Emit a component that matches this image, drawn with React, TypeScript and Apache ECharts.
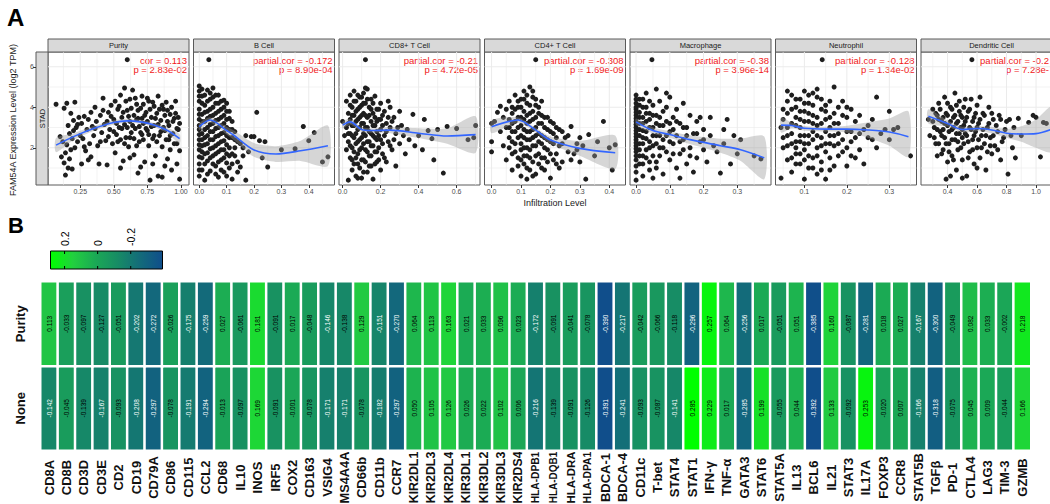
import React, { useEffect, useRef } from 'react';
import * as echarts from 'echarts';

const FONT = 'Liberation Sans, Arial, Helvetica, sans-serif';

// ---------------- Panel A data ----------------
const panelTitles = ['Purity', 'B Cell', 'CD8+ T Cell', 'CD4+ T Cell', 'Macrophage', 'Neutrophil', 'Dendritic Cell'];
const corTexts = ['cor = 0.113', 'partial.cor = -0.172', 'partial.cor = -0.21', 'partial.cor = -0.308', 'partial.cor = -0.38', 'partial.cor = -0.128', 'partial.cor = -0.2'];
const pTexts = ['p = 2.83e-02', 'p = 8.90e-04', 'p = 4.72e-05', 'p = 1.69e-09', 'p = 3.96e-14', 'p = 1.34e-02', 'p = 7.28e-'];
const rowStrip = 'STAD';
const yTitle = 'FAM54A Expression Level (log2 TPM)';
const xTitle = 'Infiltration Level';

const xMins = [0.01, -0.021, -0.019, -0.024, -0.018, 0.032, 0.22];
const xMaxs = [1.06, 0.494, 0.723, 0.455, 0.4, 0.364, 1.176];
const xTicks = [[0.25, 0.5, 0.75, 1.0], [0, 0.1, 0.2, 0.3, 0.4], [0, 0.2, 0.4, 0.6], [0, 0.1, 0.2, 0.3, 0.4], [0, 0.1, 0.2, 0.3], [0.1, 0.2, 0.3], [0.4, 0.6, 0.8, 1.0]];
const xMinorTicks = [[0.125, 0.375, 0.625, 0.875], [0.05, 0.15, 0.25, 0.35, 0.45], [0.1, 0.3, 0.5, 0.7], [0.05, 0.15, 0.25, 0.35], [0.05, 0.15, 0.25, 0.35], [0.05, 0.15, 0.25, 0.35], [0.3, 0.5, 0.7, 0.9, 1.1]];
const xTickDecimals = [2, 1, 1, 1, 1, 1, 1];
const yMin = 0.16;
const yMax = 6.73;
const yTicks = [2, 4, 6];
const yMinorTicks = [1, 3, 5];

const purityPts = [
  [0.07, 4.15], [0.6, 6.35], [0.1, 2.55], [0.11, 1.55], [0.12, 2.3], [0.13, 1.25], [0.13, 3.95], [0.14, 0.65], [0.14, 1.75], [0.15, 2.15], [0.15, 4.2], [0.16, 1.0], [0.16, 3.1], [0.17, 1.45], [0.17, 2.7], [0.18, 3.7], [0.18, 1.9], [0.19, 0.95], [0.19, 2.45], [0.2, 3.35], [0.2, 2.85], [0.21, 4.25], [0.21, 2.0], [0.22, 3.0], [0.23, 2.3], [0.24, 3.5], [0.25, 2.6], [0.26, 1.2], [0.26, 3.2], [0.27, 2.45], [0.28, 3.55], [0.29, 1.85], [0.3, 2.9], [0.31, 3.4], [0.32, 2.2], [0.33, 1.55], [0.34, 3.05], [0.35, 2.6], [0.36, 4.0], [0.37, 3.3], [0.38, 2.1], [0.39, 1.2], [0.4, 3.6], [0.41, 2.75], [0.42, 4.45], [0.43, 3.15], [0.44, 2.35], [0.45, 1.15], [0.46, 3.75], [0.47, 2.9], [0.48, 4.1], [0.49, 2.2], [0.5, 3.4], [0.51, 1.75], [0.52, 2.65], [0.53, 3.9], [0.54, 3.0], [0.55, 4.6], [0.55, 2.4], [0.56, 3.5], [0.57, 1.35], [0.58, 4.95], [0.58, 3.15], [0.59, 2.5], [0.6, 3.85], [0.61, 2.05], [0.62, 4.4], [0.62, 3.3], [0.63, 2.75], [0.64, 4.85], [0.65, 3.6], [0.65, 1.65], [0.66, 2.95], [0.67, 4.15], [0.68, 0.75], [0.68, 3.45], [0.69, 2.3], [0.7, 3.95], [0.71, 4.55], [0.71, 2.65], [0.72, 3.2], [0.73, 1.3], [0.74, 3.75], [0.75, 2.85], [0.76, 4.3], [0.76, 2.1], [0.77, 0.4], [0.78, 3.5], [0.79, 2.45], [0.8, 4.05], [0.8, 3.1], [0.81, 1.6], [0.82, 3.7], [0.83, 4.55], [0.84, 2.6], [0.85, 3.35], [0.86, 0.55], [0.86, 2.05], [0.87, 3.9], [0.88, 2.85], [0.89, 4.25], [0.9, 1.45], [0.9, 3.3], [0.91, 2.4], [0.92, 3.65], [0.93, 0.9], [0.94, 2.7], [0.95, 3.45], [0.96, 4.3], [0.97, 1.2], [0.97, 2.2], [0.98, 2.9], [0.99, 0.45], [0.99, 3.2], [0.99, 1.85],
  [0.45, 3.3], [0.46, 2.55], [0.48, 3.55], [0.5, 2.8], [0.51, 4.3], [0.52, 3.2], [0.53, 2.3], [0.54, 4.05], [0.56, 2.95], [0.57, 3.75], [0.58, 2.2], [0.59, 4.3], [0.6, 3.0], [0.61, 3.55], [0.62, 2.5], [0.63, 3.95], [0.64, 3.1], [0.65, 2.45], [0.66, 4.45], [0.67, 3.4], [0.67, 2.1], [0.68, 3.85], [0.69, 3.05], [0.7, 2.75], [0.71, 3.45], [0.72, 4.15], [0.72, 2.4], [0.73, 3.6], [0.74, 2.95], [0.75, 4.45], [0.75, 3.3], [0.76, 2.65], [0.77, 3.9], [0.78, 3.05], [0.79, 4.25], [0.8, 2.6], [0.81, 3.45], [0.82, 2.3], [0.83, 3.15], [0.84, 3.9], [0.85, 2.8], [0.86, 4.1], [0.87, 3.0], [0.88, 3.6], [0.89, 2.4], [0.9, 3.85], [0.91, 3.1], [0.92, 2.6], [0.93, 4.0], [0.94, 3.3], [0.95, 2.2], [0.96, 3.7], [0.97, 2.95], [0.98, 3.5], [0.4, 2.3], [0.42, 3.85], [0.36, 2.95], [0.33, 3.75], [0.28, 2.05], [0.23, 3.15], [0.31, 1.4], [0.55, 1.0], [0.62, 1.5], [0.7, 1.05], [0.79, 1.2], [0.88, 1.1], [0.92, 1.9], [0.83, 0.6],
];
const bCellPts = [
  [0.035, 6.35], [0.0, 5.05], [0.0, 4.8], [0.0, 3.9], [0.0, 3.4], [0.0, 2.9], [0.0, 2.4], [0.0, 1.9], [0.0, 1.2], [0.0, 0.6], [0.0, 4.3], [0.0, 3.1], [0.01, 4.55], [0.01, 3.65], [0.01, 2.7], [0.01, 2.1], [0.01, 1.5], [0.01, 0.9], [0.02, 4.1], [0.02, 3.3], [0.02, 2.5], [0.02, 1.7], [0.02, 0.4], [0.03, 4.85], [0.03, 3.8], [0.03, 3.0], [0.03, 2.2], [0.03, 1.35], [0.04, 4.4], [0.04, 3.55], [0.04, 2.8], [0.04, 1.95], [0.04, 0.85], [0.05, 4.95], [0.05, 4.0], [0.05, 3.2], [0.05, 2.4], [0.05, 1.6], [0.06, 4.6], [0.06, 3.7], [0.06, 2.95], [0.06, 2.1], [0.06, 1.1], [0.07, 4.2], [0.07, 3.4], [0.07, 2.6], [0.07, 1.8], [0.07, 0.55], [0.08, 3.9], [0.08, 3.1], [0.08, 2.3], [0.08, 1.4], [0.09, 4.35], [0.09, 3.6], [0.09, 2.75], [0.09, 1.9], [0.09, 0.8], [0.1, 3.8], [0.1, 3.0], [0.1, 2.15], [0.1, 1.25], [0.11, 3.45], [0.11, 2.5], [0.11, 1.6], [0.12, 2.9], [0.12, 1.2], [0.13, 2.4], [0.13, 1.6], [0.14, 0.8], [0.15, 1.05], [0.15, 2.2], [0.17, 0.4], [0.17, 2.6], [0.19, 2.55], [0.2, 2.55], [0.21, 3.75], [0.22, 2.35], [0.23, 1.5], [0.24, 2.3], [0.25, 1.05], [0.3, 1.9], [0.35, 1.95], [0.38, 3.05], [0.4, 2.35], [0.42, 2.75], [0.45, 1.3], [0.47, 1.55], [0.16, 1.6], [0.12, 0.45],
  [0.0, 4.55], [0.0, 3.65], [0.0, 2.65], [0.0, 2.15], [0.0, 1.55], [0.0, 0.9], [0.01, 4.9], [0.01, 4.2], [0.01, 3.3], [0.01, 2.4], [0.01, 1.8], [0.02, 4.6], [0.02, 3.75], [0.02, 2.9], [0.02, 2.15], [0.02, 1.2], [0.03, 4.3], [0.03, 3.45], [0.03, 2.6], [0.03, 1.75], [0.03, 0.7], [0.04, 4.7], [0.04, 3.9], [0.04, 3.15], [0.04, 2.4], [0.04, 1.5], [0.05, 4.5], [0.05, 3.6], [0.05, 2.8], [0.05, 2.0], [0.05, 1.2], [0.06, 4.2], [0.06, 3.35], [0.06, 2.55], [0.06, 1.7], [0.06, 0.7], [0.07, 4.6], [0.07, 3.8], [0.07, 3.0], [0.07, 2.2], [0.07, 1.3], [0.08, 4.3], [0.08, 3.5], [0.08, 2.7], [0.08, 1.9], [0.08, 0.9], [0.09, 4.0], [0.09, 3.2], [0.09, 2.35], [0.09, 1.5], [0.1, 4.2], [0.1, 3.4], [0.1, 2.6], [0.1, 1.7], [0.1, 0.6], [0.11, 3.8], [0.11, 2.9], [0.11, 2.0], [0.11, 1.0], [0.12, 3.3], [0.12, 2.5], [0.12, 1.7], [0.13, 2.8], [0.13, 2.0], [0.14, 2.3], [0.14, 1.3], [0.16, 2.0], [0.18, 1.8],
];
const cd8Pts = [
  [0.12, 6.35], [0.0, 3.3], [0.01, 2.6], [0.02, 4.3], [0.02, 3.0], [0.02, 1.9], [0.03, 3.7], [0.03, 2.3], [0.03, 0.4], [0.04, 4.6], [0.04, 3.4], [0.04, 2.7], [0.04, 1.5], [0.05, 4.0], [0.05, 3.1], [0.05, 2.0], [0.05, 0.9], [0.06, 4.8], [0.06, 3.6], [0.06, 2.5], [0.06, 1.2], [0.07, 4.3], [0.07, 3.3], [0.07, 2.2], [0.07, 0.6], [0.08, 3.9], [0.08, 2.9], [0.08, 1.7], [0.09, 4.5], [0.09, 3.5], [0.09, 2.4], [0.09, 1.0], [0.1, 4.1], [0.1, 3.2], [0.1, 2.0], [0.1, 0.5], [0.11, 4.7], [0.11, 3.7], [0.11, 2.7], [0.11, 1.4], [0.12, 4.2], [0.12, 3.0], [0.12, 1.9], [0.13, 4.9], [0.13, 3.5], [0.13, 2.3], [0.13, 0.8], [0.14, 4.0], [0.14, 2.8], [0.14, 1.6], [0.15, 4.4], [0.15, 3.3], [0.15, 2.1], [0.15, 1.1], [0.16, 3.7], [0.16, 2.6], [0.16, 0.45], [0.17, 4.55], [0.17, 3.1], [0.17, 1.8], [0.18, 3.9], [0.18, 2.4], [0.18, 1.3], [0.19, 3.4], [0.19, 2.0], [0.2, 4.2], [0.2, 2.9], [0.2, 0.9], [0.21, 3.6], [0.21, 1.7], [0.22, 2.6], [0.23, 3.2], [0.23, 1.3], [0.24, 4.3], [0.24, 2.3], [0.25, 3.0], [0.26, 1.9], [0.27, 3.5], [0.28, 2.7], [0.28, 1.1], [0.3, 3.8], [0.3, 2.2], [0.31, 3.1], [0.33, 1.7], [0.34, 2.9], [0.35, 2.4], [0.37, 3.65], [0.38, 2.1], [0.4, 2.6], [0.42, 1.9], [0.43, 3.4], [0.45, 2.85], [0.47, 2.45], [0.48, 1.4], [0.5, 2.9], [0.53, 0.75], [0.55, 3.05], [0.6, 2.95], [0.66, 2.4], [0.69, 2.5], [0.7, 3.1],
  [0.03, 3.2], [0.03, 2.7], [0.04, 4.1], [0.04, 2.1], [0.05, 3.6], [0.05, 2.6], [0.05, 1.4], [0.06, 4.3], [0.06, 3.1], [0.06, 1.8], [0.07, 3.8], [0.07, 2.7], [0.07, 1.5], [0.08, 4.6], [0.08, 3.4], [0.08, 2.3], [0.08, 1.2], [0.09, 4.0], [0.09, 3.0], [0.09, 1.9], [0.1, 4.5], [0.1, 3.6], [0.1, 2.5], [0.1, 1.4], [0.11, 4.2], [0.11, 3.2], [0.11, 2.2], [0.11, 0.8], [0.12, 3.6], [0.12, 2.6], [0.12, 1.3], [0.13, 4.4], [0.13, 3.0], [0.13, 1.8], [0.14, 3.6], [0.14, 2.3], [0.14, 1.1], [0.15, 3.9], [0.15, 2.7], [0.15, 1.6], [0.16, 4.2], [0.16, 3.1], [0.16, 2.1], [0.17, 3.5], [0.17, 2.5], [0.17, 1.2], [0.18, 3.3], [0.18, 2.8], [0.18, 1.8], [0.19, 3.9], [0.19, 2.6], [0.19, 1.4], [0.2, 3.4], [0.2, 2.4], [0.21, 3.1], [0.21, 2.2], [0.22, 3.8], [0.22, 1.5], [0.23, 2.8], [0.24, 3.5], [0.25, 2.1], [0.26, 3.3], [0.27, 2.4], [0.29, 3.0], [0.25, 4.0], [0.32, 2.6], [0.12, 4.95], [0.08, 0.5],
];
const cd4Pts = [
  [0.15, 6.35], [0.0, 3.2], [0.0, 2.3], [0.0, 1.8], [0.01, 3.3], [0.02, 3.75], [0.03, 4.05], [0.03, 2.8], [0.04, 3.5], [0.04, 2.1], [0.05, 3.9], [0.05, 3.0], [0.05, 1.4], [0.06, 4.3], [0.06, 3.4], [0.06, 2.5], [0.07, 3.7], [0.07, 2.8], [0.07, 1.7], [0.07, 0.9], [0.08, 4.6], [0.08, 3.3], [0.08, 2.2], [0.09, 4.0], [0.09, 3.0], [0.09, 1.5], [0.1, 4.4], [0.1, 3.5], [0.1, 2.6], [0.1, 1.9], [0.1, 0.6], [0.11, 4.8], [0.11, 3.8], [0.11, 2.9], [0.11, 2.0], [0.11, 1.2], [0.12, 4.2], [0.12, 3.2], [0.12, 2.4], [0.12, 1.6], [0.12, 0.45], [0.13, 5.0], [0.13, 3.7], [0.13, 2.8], [0.13, 1.9], [0.13, 0.9], [0.14, 4.5], [0.14, 3.4], [0.14, 2.5], [0.14, 1.3], [0.15, 4.1], [0.15, 3.0], [0.15, 2.1], [0.15, 0.7], [0.16, 3.7], [0.16, 2.7], [0.16, 1.7], [0.17, 4.3], [0.17, 3.2], [0.17, 2.2], [0.17, 1.0], [0.18, 3.5], [0.18, 2.5], [0.18, 1.5], [0.19, 2.9], [0.19, 1.9], [0.2, 3.3], [0.2, 2.3], [0.2, 0.5], [0.21, 2.7], [0.21, 1.4], [0.22, 3.0], [0.22, 1.2], [0.23, 2.1], [0.24, 2.8], [0.24, 1.3], [0.25, 2.5], [0.26, 1.8], [0.27, 3.05], [0.28, 1.7], [0.29, 2.2], [0.3, 2.5], [0.31, 2.1], [0.32, 0.45], [0.33, 2.65], [0.35, 1.6], [0.38, 3.3], [0.4, 2.0], [0.41, 0.9], [0.42, 2.15],
  [0.06, 3.0], [0.06, 2.0], [0.07, 4.0], [0.07, 3.2], [0.07, 2.3], [0.08, 3.9], [0.08, 2.8], [0.08, 1.8], [0.09, 4.3], [0.09, 3.5], [0.09, 2.5], [0.09, 1.1], [0.1, 4.0], [0.1, 3.1], [0.1, 2.2], [0.1, 1.4], [0.11, 4.4], [0.11, 3.4], [0.11, 2.5], [0.11, 1.6], [0.12, 4.6], [0.12, 3.6], [0.12, 2.8], [0.12, 2.0], [0.12, 1.0], [0.13, 4.1], [0.13, 3.3], [0.13, 2.4], [0.13, 1.5], [0.14, 4.8], [0.14, 3.8], [0.14, 2.9], [0.14, 2.1], [0.14, 0.6], [0.15, 4.4], [0.15, 3.5], [0.15, 2.6], [0.15, 1.6], [0.16, 4.0], [0.16, 3.2], [0.16, 2.3], [0.16, 1.2], [0.17, 3.6], [0.17, 2.6], [0.17, 1.5], [0.18, 3.0], [0.18, 2.0], [0.18, 0.9], [0.19, 3.5], [0.19, 2.4], [0.19, 1.3], [0.2, 2.8], [0.2, 1.7], [0.21, 3.2], [0.21, 2.2], [0.22, 2.5], [0.22, 1.7], [0.23, 2.9], [0.23, 1.0], [0.24, 2.2], [0.26, 2.6], [0.27, 1.4], [0.29, 1.9], [0.3, 1.3], [0.36, 2.3],
];
const macroPts = [
  [0.047, 6.35], [0.0, 4.6], [0.0, 4.2], [0.0, 3.9], [0.0, 3.6], [0.0, 3.3], [0.0, 3.0], [0.0, 2.7], [0.0, 2.4], [0.0, 2.1], [0.0, 1.8], [0.0, 1.4], [0.0, 0.4], [0.01, 4.4], [0.01, 3.5], [0.01, 2.9], [0.01, 2.2], [0.01, 1.6], [0.02, 4.0], [0.02, 3.2], [0.02, 2.5], [0.02, 1.2], [0.03, 4.7], [0.03, 3.7], [0.03, 2.8], [0.03, 1.9], [0.04, 3.4], [0.04, 2.3], [0.04, 0.9], [0.05, 4.1], [0.05, 3.0], [0.05, 1.6], [0.06, 3.6], [0.06, 2.6], [0.06, 1.3], [0.07, 4.3], [0.07, 3.1], [0.07, 2.0], [0.08, 3.8], [0.08, 2.4], [0.08, 0.7], [0.09, 3.3], [0.09, 1.8], [0.1, 4.5], [0.1, 2.8], [0.1, 1.4], [0.11, 3.5], [0.11, 2.2], [0.12, 3.9], [0.12, 2.6], [0.12, 1.0], [0.13, 3.2], [0.13, 1.7], [0.14, 4.2], [0.14, 2.4], [0.15, 3.0], [0.15, 1.2], [0.16, 3.6], [0.16, 2.0], [0.17, 2.7], [0.17, 0.8], [0.18, 3.3], [0.18, 1.5], [0.19, 2.3], [0.2, 2.9], [0.2, 1.9], [0.21, 1.3], [0.22, 2.6], [0.22, 3.5], [0.24, 1.8], [0.25, 0.75], [0.26, 2.2], [0.27, 3.4], [0.29, 2.6], [0.3, 1.7], [0.31, 2.4], [0.35, 1.6], [0.37, 1.45], [0.13, 0.5], [0.06, 4.9], [0.09, 4.7],
  [0.0, 4.4], [0.0, 4.0], [0.0, 3.75], [0.0, 3.45], [0.0, 3.15], [0.0, 2.85], [0.0, 2.55], [0.0, 2.25], [0.0, 1.95], [0.0, 1.6], [0.0, 1.1], [0.0, 0.8], [0.01, 4.1], [0.01, 3.75], [0.01, 3.2], [0.01, 2.6], [0.01, 1.9], [0.01, 1.2], [0.02, 4.4], [0.02, 3.5], [0.02, 2.85], [0.02, 2.2], [0.02, 1.6], [0.02, 0.6], [0.03, 4.0], [0.03, 3.3], [0.03, 2.45], [0.03, 1.5], [0.04, 4.3], [0.04, 3.7], [0.04, 3.0], [0.04, 2.0], [0.04, 1.3], [0.05, 3.6], [0.05, 2.6], [0.05, 2.1], [0.06, 3.2], [0.06, 2.2], [0.06, 1.0], [0.07, 3.5], [0.07, 2.6], [0.07, 1.6], [0.08, 3.1], [0.08, 2.0], [0.09, 4.0], [0.09, 2.6], [0.1, 3.2], [0.1, 2.3], [0.11, 2.9], [0.11, 1.7], [0.12, 3.3], [0.13, 2.3], [0.14, 3.0], [0.15, 2.6], [0.16, 1.6], [0.18, 2.7], [0.19, 3.5], [0.2, 2.4], [0.23, 2.1], [0.26, 2.9], [0.28, 1.2], [0.14, 1.9], [0.05, 0.5],
];
const neutroPts = [
  [0.142, 6.35], [0.045, 3.0], [0.045, 0.5], [0.05, 3.4], [0.05, 2.5], [0.06, 4.3], [0.06, 3.7], [0.06, 2.1], [0.06, 1.4], [0.07, 4.6], [0.07, 3.2], [0.07, 2.7], [0.07, 0.8], [0.08, 4.0], [0.08, 3.5], [0.08, 2.3], [0.08, 1.7], [0.09, 4.4], [0.09, 3.0], [0.09, 1.2], [0.1, 4.8], [0.1, 3.8], [0.1, 2.6], [0.1, 1.9], [0.1, 0.45], [0.11, 4.2], [0.11, 3.3], [0.11, 2.2], [0.11, 1.0], [0.12, 3.6], [0.12, 2.8], [0.12, 1.5], [0.13, 4.5], [0.13, 3.1], [0.13, 2.0], [0.13, 0.7], [0.14, 3.9], [0.14, 2.5], [0.14, 1.3], [0.15, 4.1], [0.15, 3.4], [0.15, 1.8], [0.16, 3.0], [0.16, 2.2], [0.16, 0.9], [0.17, 5.0], [0.17, 3.7], [0.17, 2.6], [0.18, 3.2], [0.18, 1.6], [0.19, 4.3], [0.19, 2.4], [0.2, 3.5], [0.2, 2.0], [0.2, 1.1], [0.21, 2.8], [0.21, 3.9], [0.22, 2.5], [0.22, 1.5], [0.23, 3.6], [0.24, 2.9], [0.24, 1.2], [0.25, 3.1], [0.26, 2.4], [0.27, 4.5], [0.28, 2.7], [0.3, 3.8], [0.31, 2.9], [0.35, 1.6], [0.12, 4.7], [0.09, 2.3], [0.15, 0.45],
  [0.05, 3.9], [0.05, 2.0], [0.06, 3.0], [0.06, 2.6], [0.07, 3.9], [0.07, 2.2], [0.07, 1.5], [0.08, 4.4], [0.08, 3.1], [0.08, 2.0], [0.08, 1.2], [0.09, 3.8], [0.09, 3.4], [0.09, 2.6], [0.09, 1.7], [0.1, 4.2], [0.1, 3.3], [0.1, 2.2], [0.1, 1.4], [0.11, 4.6], [0.11, 3.7], [0.11, 2.6], [0.11, 1.6], [0.12, 4.1], [0.12, 3.2], [0.12, 2.4], [0.12, 1.0], [0.13, 3.5], [0.13, 2.6], [0.13, 1.6], [0.14, 4.4], [0.14, 3.2], [0.14, 2.1], [0.14, 0.9], [0.15, 3.8], [0.15, 2.8], [0.15, 2.2], [0.16, 4.3], [0.16, 3.5], [0.16, 2.6], [0.16, 1.5], [0.17, 3.2], [0.17, 2.1], [0.17, 1.1], [0.18, 4.0], [0.18, 2.7], [0.18, 2.2], [0.19, 3.6], [0.19, 1.8], [0.2, 2.8], [0.2, 4.0], [0.21, 2.3], [0.21, 1.6], [0.22, 3.3], [0.23, 2.7], [0.23, 1.9], [0.25, 2.5], [0.26, 3.4], [0.27, 2.0], [0.29, 2.9], [0.3, 2.4], [0.32, 3.0], [0.13, 4.9], [0.06, 4.8],
];
const dendriticPts = [
  [0.565, 6.35], [0.27, 3.4], [0.28, 2.6], [0.3, 3.9], [0.31, 3.0], [0.32, 2.2], [0.33, 3.6], [0.33, 1.6], [0.34, 4.2], [0.35, 2.8], [0.36, 3.3], [0.37, 1.9], [0.38, 4.5], [0.38, 2.5], [0.39, 3.7], [0.4, 3.1], [0.4, 1.3], [0.41, 2.2], [0.42, 4.0], [0.43, 2.9], [0.43, 1.6], [0.44, 3.5], [0.45, 4.7], [0.45, 2.4], [0.46, 0.9], [0.46, 3.2], [0.47, 1.9], [0.48, 4.3], [0.48, 2.7], [0.49, 3.6], [0.5, 1.4], [0.5, 2.9], [0.51, 4.0], [0.51, 2.2], [0.52, 3.3], [0.53, 0.6], [0.53, 2.6], [0.54, 3.8], [0.55, 1.8], [0.55, 3.0], [0.56, 4.4], [0.57, 2.4], [0.58, 3.5], [0.58, 1.2], [0.59, 2.8], [0.6, 4.1], [0.6, 2.0], [0.61, 3.2], [0.62, 1.5], [0.63, 2.6], [0.64, 3.7], [0.65, 2.2], [0.66, 0.9], [0.67, 3.0], [0.68, 4.0], [0.69, 2.5], [0.7, 1.7], [0.71, 3.4], [0.72, 2.1], [0.74, 2.8], [0.75, 3.6], [0.76, 1.4], [0.78, 2.5], [0.8, 3.3], [0.81, 0.7], [0.82, 3.4], [0.84, 2.0], [0.86, 1.5], [0.88, 3.45], [0.9, 2.6], [0.95, 3.25], [0.98, 3.6], [1.0, 3.5], [1.03, 1.55], [1.05, 3.25], [1.07, 3.2], [0.42, 0.6], [0.39, 0.45],
  [0.3, 3.3], [0.31, 2.5], [0.32, 3.7], [0.33, 2.9], [0.34, 3.4], [0.34, 2.2], [0.35, 3.9], [0.36, 2.6], [0.36, 1.7], [0.37, 3.5], [0.37, 2.9], [0.38, 3.2], [0.39, 2.2], [0.4, 4.2], [0.4, 3.6], [0.41, 2.8], [0.41, 1.8], [0.42, 3.3], [0.43, 3.9], [0.43, 2.4], [0.44, 3.0], [0.44, 1.4], [0.45, 3.6], [0.46, 2.7], [0.46, 4.1], [0.47, 3.3], [0.47, 2.3], [0.48, 3.8], [0.49, 3.0], [0.49, 2.0], [0.5, 3.5], [0.5, 2.5], [0.51, 3.1], [0.52, 2.7], [0.52, 4.4], [0.53, 3.5], [0.54, 2.3], [0.54, 1.5], [0.55, 3.9], [0.56, 2.9], [0.57, 3.3], [0.57, 1.9], [0.58, 2.6], [0.59, 3.7], [0.6, 3.0], [0.61, 2.4], [0.62, 3.4], [0.62, 4.5], [0.63, 2.0], [0.64, 2.9], [0.65, 3.6], [0.66, 2.6], [0.67, 1.8], [0.68, 3.2], [0.69, 2.1], [0.7, 3.7], [0.71, 2.6], [0.73, 3.1], [0.74, 1.9], [0.76, 3.4], [0.77, 2.3], [0.79, 2.9], [0.83, 2.6], [0.85, 3.0], [0.6, 1.0], [0.5, 0.5],
];

// loess fits: [x, fit, lower, upper]
const purityFit = [[0.07, 2.13, 1.78, 2.48], [0.2, 2.55, 2.38, 2.72], [0.35, 2.95, 2.83, 3.07], [0.5, 3.25, 3.14, 3.36], [0.6, 3.33, 3.23, 3.43], [0.7, 3.28, 3.18, 3.38], [0.8, 3.12, 3.01, 3.23], [0.9, 2.85, 2.71, 2.99], [0.99, 2.45, 2.22, 2.68]];
const bCellFit = [[0.0, 3.04, 2.88, 3.2], [0.04, 3.37, 3.24, 3.5], [0.1, 2.85, 2.66, 3.04], [0.125, 2.63, 2.4, 2.86], [0.2, 1.89, 1.55, 2.23], [0.28, 1.69, 1.3, 2.08], [0.37, 1.85, 1.35, 2.35], [0.47, 2.1, 1.1, 3.1]];
const cd8Fit = [[0.0, 3.12, 2.95, 3.29], [0.04, 3.28, 3.15, 3.41], [0.1, 2.9, 2.78, 3.02], [0.15, 2.85, 2.74, 2.96], [0.25, 2.87, 2.72, 3.02], [0.4, 2.72, 2.48, 2.96], [0.55, 2.58, 2.2, 2.96], [0.7, 2.65, 1.75, 3.55]];
const cd4Fit = [[0.0, 3.04, 2.72, 3.36], [0.09, 3.37, 3.24, 3.5], [0.15, 2.87, 2.75, 2.99], [0.2, 2.38, 2.2, 2.56], [0.3, 1.97, 1.6, 2.34], [0.42, 1.75, 0.95, 2.6]];
const macroFit = [[0.0, 3.28, 3.12, 3.44], [0.05, 2.85, 2.7, 3.0], [0.1, 2.65, 2.48, 2.82], [0.16, 2.4, 2.18, 2.62], [0.25, 2.1, 1.75, 2.45], [0.31, 1.9, 1.35, 2.45], [0.38, 1.5, 0.45, 2.55]];
const neutroFit = [[0.045, 3.12, 2.75, 3.5], [0.07, 3.1, 2.95, 3.25], [0.1, 2.96, 2.84, 3.08], [0.15, 2.92, 2.8, 3.04], [0.2, 2.92, 2.75, 3.09], [0.25, 2.88, 2.5, 3.26], [0.3, 2.78, 2.1, 3.45], [0.345, 2.54, 1.55, 3.8]];
const dendriticFit = [[0.27, 3.56, 3.2, 3.9], [0.4, 3.2, 3.05, 3.35], [0.5, 2.9, 2.76, 3.04], [0.6, 2.95, 2.82, 3.08], [0.7, 2.88, 2.72, 3.04], [0.8, 2.72, 2.5, 2.94], [0.9, 2.68, 2.3, 3.06], [1.0, 2.7, 2.0, 3.4], [1.1, 2.9, 1.8, 4.0]];

const scatterSets = [purityPts, bCellPts, cd8Pts, cd4Pts, macroPts, neutroPts, dendriticPts];
const fitSets = [purityFit, bCellFit, cd8Fit, cd4Fit, macroFit, neutroFit, dendriticFit];

// ---------------- Panel B data ----------------
const genes = ['CD8A', 'CD8B', 'CD3D', 'CD3E', 'CD2', 'CD19', 'CD79A', 'CD86', 'CD115', 'CCL2', 'CD68', 'IL10', 'INOS', 'IRF5', 'COX2', 'CD163', 'VSIG4', 'MS4A4A', 'CD66b', 'CD11b', 'CCR7', 'KIR2DL1', 'KIR2DL3', 'KIR2DL4', 'KIR3DL1', 'KIR3DL2', 'KIR3DL3', 'KIR2DS4', 'HLA-DPB1', 'HLA-DQB1', 'HLA-DRA', 'HLA-DPA1', 'BDCA-1', 'BDCA-4', 'CD11c', 'T-bet', 'STAT4', 'STAT1', 'IFN-γ', 'TNF-α', 'GATA3', 'STAT6', 'STAT5A', 'IL13', 'BCL6', 'IL21', 'STAT3', 'IL17A', 'FOXP3', 'CCR8', 'STAT5B', 'TGFβ', 'PD-1', 'CTLA4', 'LAG3', 'TIM-3', 'GZMB'];
const heatRows = ['None', 'Purity'];
const purityCor = [0.113, -0.033, -0.097, -0.127, -0.051, -0.202, -0.272, -0.026, -0.175, -0.259, 0.027, -0.061, 0.181, -0.091, 0.017, -0.048, -0.146, -0.138, 0.129, -0.151, -0.27, 0.064, 0.113, 0.163, 0.021, 0.033, 0.096, 0.023, -0.172, -0.091, -0.041, -0.078, -0.39, -0.217, -0.042, -0.066, -0.118, -0.296, 0.257, 0.064, -0.256, 0.017, -0.051, 0.051, -0.385, 0.16, -0.087, -0.281, 0.018, 0.027, -0.167, -0.3, -0.049, 0.082, 0.033, -0.002, 0.218];
const noneCor = [-0.142, -0.045, -0.139, -0.167, -0.093, -0.208, -0.297, -0.078, -0.191, -0.294, -0.013, -0.097, 0.169, -0.091, -0.001, -0.078, -0.171, -0.171, -0.078, -0.182, -0.297, 0.05, 0.105, 0.126, 0.026, 0.022, 0.102, 0.006, -0.216, -0.139, -0.091, -0.126, -0.391, -0.241, -0.093, -0.087, -0.141, 0.285, 0.229, 0.017, -0.285, 0.199, -0.055, 0.044, -0.392, 0.133, -0.092, 0.253, -0.02, 0.007, -0.166, -0.318, -0.075, 0.045, 0.009, -0.044, 0.166];
const colorMin = -0.392;
const colorMax = 0.285;
const heatColors = ['#104E8B', '#136B7A', '#178C65', '#1BA955', '#22D03F', '#00FF00'];
const legendTicks = [0.2, 0, -0.2];
const legendTickLabels = ['0.2', '0', '-0.2'];

// ---------------- layout ----------------
const PANEL_LEFT0 = 48;
const PANEL_PITCH = 145.5;
const PANEL_W = 141;
const PANEL_TOP = 52;
const PANEL_H = 133;
const STRIP_H = 13;
const GENE_FONT = 13;
const GENE_MAX_W = 52;

function geneFontSize(text: string) {
  const canvas = document.createElement('canvas');
  const ctx = canvas.getContext('2d');
  if (!ctx) return GENE_FONT;
  ctx.font = `bold ${GENE_FONT}px ${FONT}`;
  const w = ctx.measureText(text).width;
  return w > GENE_MAX_W ? Math.floor((GENE_FONT * GENE_MAX_W / w) * 10) / 10 : GENE_FONT;
}

function buildOption() {
  const grids: any[] = [];
  const xAxes: any[] = [];
  const yAxes: any[] = [];
  const series: any[] = [];
  const graphics: any[] = [];

  panelTitles.forEach((title, i) => {
    const left = PANEL_LEFT0 + i * PANEL_PITCH;
    grids.push({
      left, top: PANEL_TOP, width: PANEL_W, height: PANEL_H,
      show: true, borderColor: '#5a5a5a', borderWidth: 1, backgroundColor: '#ffffff',
      containLabel: false, outerBoundsMode: 'none',
    });
    xAxes.push({
      type: 'value', gridIndex: i, min: xMins[i], max: xMaxs[i],
      axisLine: { show: false }, splitLine: { show: false },
      axisTick: { show: true, length: 3, lineStyle: { color: '#333333' }, customValues: xTicks[i] },
      axisLabel: {
        fontSize: 7, color: '#4d4d4d', margin: 3, customValues: xTicks[i],
        formatter: (v: any) => Number(v).toFixed(xTickDecimals[i]),
      },
    });
    yAxes.push({
      type: 'value', gridIndex: i, min: yMin, max: yMax, offset: i === 0 ? 12 : 0,
      axisLine: { show: false }, splitLine: { show: false },
      axisTick: i === 0 ? { show: true, length: 3, lineStyle: { color: '#333333' }, customValues: yTicks } : { show: false },
      axisLabel: i === 0 ? { show: true, fontSize: 7, color: '#4d4d4d', margin: 2, customValues: yTicks } : { show: false },
    });

    const gl = [
      ...xTicks[i].map((v) => [v, 0]),
      ...xMinorTicks[i].map((v) => [v, 1]),
      ...yTicks.map((v) => [v, 2]),
      ...yMinorTicks.map((v) => [v, 3]),
    ];
    series.push({
      type: 'custom', xAxisIndex: i, yAxisIndex: i, data: gl, z: 1, silent: true, clip: false,
      renderItem: (params: any, api: any) => {
        const v = api.value(0);
        const k = api.value(1);
        const cs = params.coordSys;
        const style = { stroke: '#ebebeb', lineWidth: k % 2 === 0 ? 1 : 0.6 };
        if (k < 2) {
          const x = api.coord([v, yMin])[0];
          return { type: 'line', shape: { x1: x, y1: cs.y, x2: x, y2: cs.y + cs.height }, style };
        }
        const y = api.coord([xMins[i], v])[1];
        return { type: 'line', shape: { x1: cs.x, y1: y, x2: cs.x + cs.width, y2: y }, style };
      },
    });
    series.push({
      type: 'scatter', xAxisIndex: i, yAxisIndex: i, data: scatterSets[i],
      symbolSize: 5, itemStyle: { color: '#1e1e1e', opacity: 1 }, z: 2, silent: true, clip: true,
    });
    const fit = fitSets[i];
    series.push({
      type: 'custom', xAxisIndex: i, yAxisIndex: i, data: fit, z: 3, silent: true, clip: true,
      renderItem: (params: any, api: any) => {
        if (params.dataIndex !== 0) return null;
        const upper = fit.map((r) => api.coord([r[0], r[3]]));
        const lower = fit.map((r) => api.coord([r[0], r[2]])).reverse();
        return {
          type: 'polygon',
          shape: { points: upper.concat(lower), smooth: 0.25 },
          style: { fill: 'rgba(153,153,153,0.4)' },
        };
      },
    });
    series.push({
      type: 'line', xAxisIndex: i, yAxisIndex: i, data: fit.map((r) => [r[0], r[1]]),
      smooth: 0.3, showSymbol: false, symbol: 'none', z: 4, silent: true, clip: true,
      lineStyle: { color: '#3366FF', width: 1.6 },
    });

    graphics.push({
      type: 'rect', shape: { x: left, y: PANEL_TOP - STRIP_H, width: PANEL_W, height: STRIP_H },
      style: { fill: '#d9d9d9', stroke: '#5a5a5a', lineWidth: 1 },
    });
    graphics.push({
      type: 'text', x: left + PANEL_W / 2, y: PANEL_TOP - STRIP_H / 2,
      style: { text: title, fontSize: 7.5, fontFamily: FONT, fill: '#1a1a1a', align: 'center', verticalAlign: 'middle' },
    });
    const tx = Math.min(left + PANEL_W - 2, 1049);
    graphics.push({
      type: 'text', x: tx, y: 60,
      style: { text: corTexts[i], fontSize: 9.5, fontFamily: FONT, fill: '#f02020', align: 'right', verticalAlign: 'middle' },
    });
    graphics.push({
      type: 'text', x: tx, y: 69.5,
      style: { text: pTexts[i], fontSize: 9.5, fontFamily: FONT, fill: '#f02020', align: 'right', verticalAlign: 'middle' },
    });
  });

  // heatmap grid
  const HI = panelTitles.length;
  grids.push({ left: 40.5, top: 281.5, width: 990.5, height: 169, containLabel: false, outerBoundsMode: 'none' });
  xAxes.push({
    type: 'category', gridIndex: HI,
    data: genes.map((g) => ({
      value: g,
      textStyle: {
        fontSize: geneFontSize(g), align: 'center', verticalAlign: 'middle',
        fontWeight: 'bold', color: '#111111', fontFamily: FONT,
      },
    })),
    axisLine: { show: false }, axisTick: { show: false }, splitLine: { show: false },
    axisLabel: {
      interval: 0, rotate: 90, align: 'center', verticalAlign: 'middle', margin: 27,
      fontSize: GENE_FONT, fontWeight: 'bold', color: '#111111', fontFamily: FONT,
    },
  });
  yAxes.push({
    type: 'category', gridIndex: HI, data: heatRows,
    axisLine: { show: false }, axisTick: { show: false }, splitLine: { show: false },
    axisLabel: {
      rotate: 90, align: 'center', verticalAlign: 'middle', margin: 20,
      fontSize: 13, fontWeight: 'bold', color: '#111111', fontFamily: FONT,
    },
  });
  const heatData: any[] = [];
  [noneCor, purityCor].forEach((row, r) => {
    row.forEach((v, c) => {
      heatData.push({ value: [c, r, v], label: { color: v < -0.14 ? '#ffffff' : '#000000' } });
    });
  });
  const heatIndex = series.length;
  series.push({
    type: 'heatmap', xAxisIndex: HI, yAxisIndex: HI, data: heatData,
    itemStyle: { borderColor: '#ffffff', borderWidth: 2.5 },
    label: {
      show: true, rotate: 90, fontSize: 6.5, fontFamily: FONT,
      formatter: (p: any) => Number(p.value[2]).toFixed(3),
    },
    emphasis: { disabled: true },
  });

  // colour key
  const LX = 50.5, LY = 251, LW = 112, LH = 18;
  graphics.push({
    type: 'rect', shape: { x: LX, y: LY, width: LW, height: LH },
    style: {
      fill: new echarts.graphic.LinearGradient(0, 0, 1, 0,
        heatColors.slice().reverse().map((c, k) => ({ offset: k / (heatColors.length - 1), color: c }))),
      stroke: '#000000', lineWidth: 1,
    },
  });
  legendTicks.forEach((v, k) => {
    const x = LX + ((colorMax - v) / (colorMax - colorMin)) * LW;
    graphics.push({ type: 'line', shape: { x1: x, y1: LY, x2: x, y2: LY + 3 }, style: { stroke: '#000', lineWidth: 1 } });
    graphics.push({ type: 'line', shape: { x1: x, y1: LY + LH - 3, x2: x, y2: LY + LH }, style: { stroke: '#000', lineWidth: 1 } });
    graphics.push({
      type: 'text', x, y: 246, rotation: Math.PI / 2,
      style: { text: legendTickLabels[k], fontSize: 10.5, fontFamily: FONT, fill: '#000', align: 'left', verticalAlign: 'middle' },
    });
  });

  graphics.push({ type: 'text', x: 7, y: 5, style: { text: 'A', fontSize: 24, fontWeight: 'bold', fontFamily: FONT, fill: '#000', align: 'left', verticalAlign: 'top' } });
  graphics.push({ type: 'text', x: 8, y: 214, style: { text: 'B', fontSize: 22, fontWeight: 'bold', fontFamily: FONT, fill: '#000', align: 'left', verticalAlign: 'top' } });
  graphics.push({
    type: 'text', x: 13, y: 120, rotation: Math.PI / 2,
    style: { text: yTitle, fontSize: 9, fontFamily: FONT, fill: '#1a1a1a', align: 'center', verticalAlign: 'middle' },
  });
  graphics.push({
    type: 'rect', shape: { x: 36, y: PANEL_TOP, width: 12, height: PANEL_H },
    style: { fill: '#d9d9d9', stroke: '#5a5a5a', lineWidth: 1 },
  });
  graphics.push({
    type: 'text', x: 42, y: PANEL_TOP + PANEL_H / 2, rotation: Math.PI / 2,
    style: { text: rowStrip, fontSize: 7.5, fontFamily: FONT, fill: '#1a1a1a', align: 'center', verticalAlign: 'middle' },
  });
  graphics.push({
    type: 'text', x: 555, y: 203,
    style: { text: xTitle, fontSize: 9, fontFamily: FONT, fill: '#1a1a1a', align: 'center', verticalAlign: 'middle' },
  });

  return {
    animation: false,
    backgroundColor: '#ffffff',
    textStyle: { fontFamily: FONT },
    grid: grids,
    xAxis: xAxes,
    yAxis: yAxes,
    visualMap: [{
      type: 'continuous', show: false, seriesIndex: heatIndex, dimension: 2,
      min: colorMin, max: colorMax, inRange: { color: heatColors },
    }],
    series,
    graphic: graphics,
  };
}

export default function App() {
  const ref = useRef<HTMLDivElement>(null);
  useEffect(() => {
    document.body.style.margin = '0';
    const chart = echarts.init(ref.current as HTMLDivElement, null, { renderer: 'svg' });
    chart.setOption(buildOption() as any);
    return () => chart.dispose();
  }, []);
  return <div ref={ref} style={{ width: 1050, height: 504 }} />;
}
